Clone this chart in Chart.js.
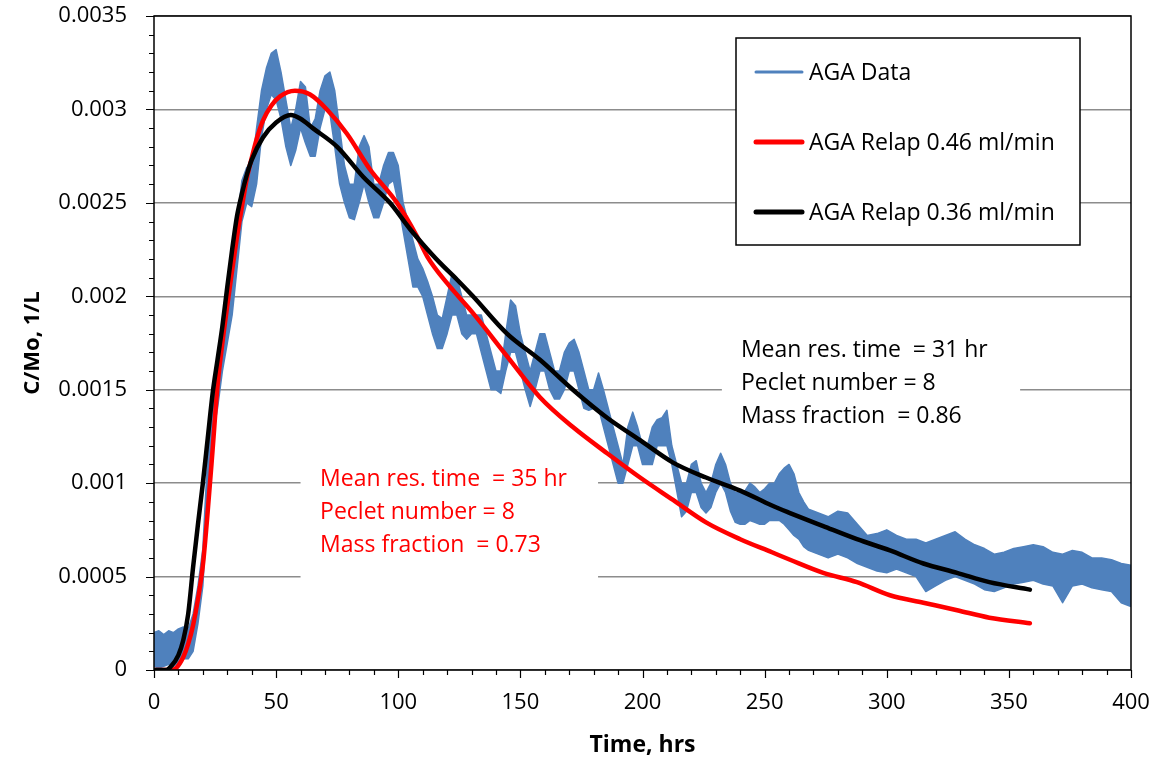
<!DOCTYPE html>
<html>
<head>
<meta charset="utf-8">
<title>AGA tracer breakthrough</title>
<script src="https://cdn.jsdelivr.net/npm/chart.js@4.4.1/dist/chart.umd.min.js"></script>
<style>
  html, body { margin: 0; padding: 0; background: #fff; }
  #tracer { display: block; }
</style>
</head>
<body>
<canvas id="tracer" width="1156" height="761"></canvas>
<script>
// Measured AGA concentration, stored as the low / high edge of the noisy trace
const dataHours = [0, 2, 4, 6, 8, 10, 12, 14, 16, 18, 20, 22, 24, 26, 28, 30, 32, 34, 36, 38,
  40, 42, 44, 46, 48, 50, 52, 54, 56, 58, 60, 62, 64, 66, 68, 70, 72, 74, 76, 78,
  80, 82, 84, 86, 88, 90, 92, 94, 96, 98, 100, 102, 104, 106, 108, 110, 112, 114, 116, 118,
  120, 122, 124, 126, 128, 130, 132, 134, 136, 138, 140, 142, 144, 146, 148, 150, 152, 154, 156, 158,
  160, 162, 164, 166, 168, 170, 172, 174, 176, 178, 180, 182, 184, 186, 188, 190, 192, 194, 196, 198,
  200, 202, 204, 206, 208, 210, 212, 214, 216, 218, 220, 222, 224, 226, 228, 230, 232, 234, 236, 238,
  240, 242, 244, 246, 248, 250, 252, 254, 256, 258, 260, 262, 264, 266, 268,
  272, 276, 280, 284, 288, 292, 296, 300, 304, 308, 312, 316, 320, 324, 328, 332, 336, 340,
  344, 348, 352, 356, 360, 364, 368, 372, 376, 380, 384, 388, 392, 396, 400];
const dataLow = [0.00002, 0.00001, 0.00002, 0.00003, 0.00002, 0.00004, 0.00006, 0.00006, 0.00010, 0.00025,
  0.00045, 0.00090, 0.00125, 0.00140, 0.00160, 0.00175, 0.00190, 0.00215, 0.00240, 0.00250,
  0.00248, 0.00260, 0.00285, 0.00300, 0.00308, 0.00305, 0.00295, 0.00280, 0.00270, 0.00278,
  0.00290, 0.00282, 0.00275, 0.00275, 0.00290, 0.00300, 0.00298, 0.00280, 0.00260, 0.00250,
  0.00242, 0.00241, 0.00250, 0.00260, 0.00250, 0.00242, 0.00242, 0.00250, 0.00260, 0.00262,
  0.00250, 0.00235, 0.00220, 0.00205, 0.00205, 0.00200, 0.00190, 0.00180, 0.00172, 0.00172,
  0.00180, 0.00190, 0.00190, 0.00180, 0.00177, 0.00180, 0.00180, 0.00170, 0.00160, 0.00150,
  0.00150, 0.00148, 0.00160, 0.00170, 0.00170, 0.00160, 0.00150, 0.00141, 0.00150, 0.00160,
  0.00160, 0.00150, 0.00145, 0.00145, 0.00150, 0.00160, 0.00160, 0.00150, 0.00140, 0.00139,
  0.00140, 0.00140, 0.00130, 0.00120, 0.00110, 0.00100, 0.00100, 0.00110, 0.00120, 0.00120,
  0.00110, 0.00110, 0.00110, 0.00120, 0.00120, 0.00120, 0.00110, 0.00096, 0.00082, 0.00085,
  0.00095, 0.00095, 0.00087, 0.00084, 0.00087, 0.00095, 0.00100, 0.00095, 0.00085, 0.00079,
  0.00078, 0.00078, 0.00080, 0.00079, 0.00078, 0.00078, 0.00080, 0.00080, 0.00080, 0.00078,
  0.00075, 0.00072, 0.00070, 0.00066, 0.00064,
  0.00062, 0.00060, 0.00062, 0.00060, 0.00057, 0.00055, 0.00053, 0.00052, 0.00054, 0.00052,
  0.00050, 0.00042, 0.00045, 0.00048, 0.00050, 0.00048, 0.00046, 0.00043,
  0.00042, 0.00044, 0.00046, 0.00047, 0.00048, 0.00046, 0.00045, 0.00036, 0.00045, 0.00046,
  0.00044, 0.00043, 0.00042, 0.00036, 0.00034];
const dataHigh = [0.00020, 0.00021, 0.00019, 0.00021, 0.00020, 0.00022, 0.00023, 0.00022, 0.00030, 0.00045,
  0.00065, 0.00115, 0.00150, 0.00165, 0.00180, 0.00198, 0.00210, 0.00240, 0.00262, 0.00269,
  0.00268, 0.00290, 0.00310, 0.00322, 0.00330, 0.00332, 0.00320, 0.00305, 0.00290, 0.00300,
  0.00315, 0.00312, 0.00290, 0.00295, 0.00310, 0.00318, 0.00320, 0.00310, 0.00290, 0.00270,
  0.00260, 0.00260, 0.00280, 0.00286, 0.00280, 0.00260, 0.00260, 0.00270, 0.00277, 0.00277,
  0.00270, 0.00250, 0.00240, 0.00230, 0.00220, 0.00215, 0.00208, 0.00200, 0.00190, 0.00188,
  0.00200, 0.00212, 0.00210, 0.00200, 0.00190, 0.00190, 0.00190, 0.00190, 0.00180, 0.00170,
  0.00160, 0.00160, 0.00180, 0.00198, 0.00195, 0.00180, 0.00170, 0.00160, 0.00170, 0.00180,
  0.00180, 0.00170, 0.00160, 0.00160, 0.00170, 0.00175, 0.00177, 0.00170, 0.00160, 0.00150,
  0.00150, 0.00159, 0.00150, 0.00140, 0.00130, 0.00120, 0.00110, 0.00130, 0.00138, 0.00130,
  0.00120, 0.00120, 0.00130, 0.00134, 0.00135, 0.00139, 0.00120, 0.00110, 0.00100, 0.00100,
  0.00110, 0.00112, 0.00100, 0.00095, 0.00100, 0.00110, 0.00116, 0.00110, 0.00100, 0.00095,
  0.00095, 0.00096, 0.00100, 0.00098, 0.00095, 0.00097, 0.00100, 0.00100, 0.00105, 0.00108,
  0.00110, 0.00105, 0.00095, 0.00090, 0.00086,
  0.00084, 0.00082, 0.00085, 0.00084, 0.00078, 0.00072, 0.00073, 0.00075, 0.00072, 0.00070,
  0.00070, 0.00068, 0.00070, 0.00072, 0.00074, 0.00070, 0.00067, 0.00065,
  0.00062, 0.00063, 0.00065, 0.00066, 0.00067, 0.00066, 0.00063, 0.00062, 0.00064, 0.00063,
  0.00060, 0.00060, 0.00059, 0.00057, 0.00056];

// RELAP fit, 0.46 ml/min
const fit046Hours = [0, 7, 9, 12, 14, 16, 18, 20, 22, 24, 26, 28, 30, 32, 34, 36, 38, 40, 42, 44.6,
  48, 51.6, 57.7, 63.9, 70.8, 79, 88.4, 99.5, 107.7, 112, 120, 130.6, 144.5, 158, 171.5, 185.5,
  199, 212.5, 226, 240, 253, 260.4, 274, 287.8, 301.3, 315, 328.8, 342, 358.6];
const fit046 = [0, 0, 0.00001, 0.00007, 0.00014, 0.00024, 0.00038, 0.00056, 0.00085, 0.00118,
  0.00152, 0.00175, 0.00195, 0.00214, 0.00232, 0.00248, 0.00263, 0.00274, 0.00284, 0.00294,
  0.00302, 0.00307, 0.00310, 0.00308, 0.00300, 0.00287, 0.00268, 0.00250, 0.00232, 0.00221,
  0.00207, 0.00191, 0.00168, 0.00146, 0.00130, 0.00116, 0.00103, 0.00091, 0.00079, 0.00070,
  0.00063, 0.00059, 0.00052, 0.00047, 0.00040, 0.00036, 0.00032, 0.00028, 0.00025];

// RELAP fit, 0.36 ml/min
const fit036Hours = [0, 5, 7, 10, 12, 14, 16, 18, 20, 22, 24, 26, 28, 30, 32, 34, 36, 38, 40, 44.6,
  50, 56, 60, 65, 75, 85.6, 96.6, 104.8, 110, 117, 124, 130.6, 144.5, 158, 171.5, 185.5,
  199, 212.5, 226, 240, 253, 260.4, 274, 287.8, 301.3, 315, 328.8, 342, 358.6];
const fit036 = [0, 0, 0.00002, 0.00008, 0.00016, 0.00030, 0.00055, 0.00078, 0.00100, 0.00124,
  0.00148, 0.00166, 0.00184, 0.00205, 0.00225, 0.00243, 0.00255, 0.00265, 0.00273, 0.00285,
  0.00293, 0.00297, 0.00295, 0.00290, 0.00280, 0.00264, 0.00250, 0.00236, 0.00228, 0.00218,
  0.00209, 0.00200, 0.00180, 0.00166, 0.00150, 0.00135, 0.00123, 0.00111, 0.00103, 0.00096,
  0.00088, 0.00084, 0.00077, 0.00070, 0.00064, 0.00057, 0.00052, 0.00047, 0.00043];

const xTickLabels = [0, 50, 100, 150, 200, 250, 300, 350, 400];
const yTickLabels = [0, 0.0005, 0.001, 0.0015, 0.002, 0.0025, 0.003, 0.0035];

const seriesNames = ['AGA Data', 'AGA Relap 0.46 ml/min', 'AGA Relap 0.36 ml/min'];

// fitted parameters, placed at [hours, C/Mo] of the first text line
const notes = [
  { color: '#ff0000', at: [68, 0.00102], box: [60, 181.8, 0.00111, 0.00040],
    lines: ['Mean res. time  = 35 hr', 'Peclet number = 8', 'Mass fraction  = 0.73'] },
  { color: '#000000', at: [240.3, 0.00171], box: [232.5, 354.6, 0.00183, 0.00127],
    lines: ['Mean res. time  = 31 hr', 'Peclet number = 8', 'Mass fraction  = 0.86'] }
];

const BLUE = '#4f81bd';
const FONT = "'Open Sans', sans-serif";
Chart.defaults.font.family = FONT;
Chart.defaults.color = '#000';

const toPoints = (xs, ys) => xs.map((x, i) => ({ x: x, y: ys[i] }));
const onStep = (v, step) => Math.abs(v / step - Math.round(v / step)) < 1e-6;
const inList = (v, list) => list.some(t => Math.abs(t - v) < 1e-9);

// white boxes behind the parameter text (they break the gridlines)
const noteBoxes = {
  id: 'noteBoxes',
  beforeDatasetsDraw(chart) {
    const { ctx, scales: { x, y } } = chart;
    ctx.save();
    ctx.fillStyle = '#fff';
    notes.forEach(n => {
      const l = x.getPixelForValue(n.box[0]), r = x.getPixelForValue(n.box[1]);
      const t = y.getPixelForValue(n.box[2]), b = y.getPixelForValue(n.box[3]);
      ctx.fillRect(l, t, r - l, b - t);
    });
    ctx.restore();
  },
  afterDatasetsDraw(chart) {
    const { ctx, scales: { x, y } } = chart;
    ctx.save();
    ctx.font = '23px ' + FONT;
    ctx.textBaseline = 'middle';
    ctx.textAlign = 'left';
    notes.forEach(n => {
      const px = x.getPixelForValue(n.at[0]);
      const py = y.getPixelForValue(n.at[1]);
      ctx.fillStyle = n.color;
      n.lines.forEach((s, i) => ctx.fillText(s, px, py + i * 33));
    });
    ctx.restore();
  }
};

// plot frame plus long / short tick marks
const frameTicks = {
  id: 'frameTicks',
  afterDraw(chart) {
    const { ctx, chartArea: a, scales: { x, y } } = chart;
    ctx.save();
    ctx.strokeStyle = '#000';
    ctx.lineWidth = 1.2;
    ctx.beginPath();
    x.ticks.forEach(t => {
      const px = Math.round(x.getPixelForValue(t.value)) + 0.5;
      ctx.moveTo(px, a.bottom);
      ctx.lineTo(px, a.bottom + (onStep(t.value, 50) ? 8 : 5));
    });
    y.ticks.forEach(t => {
      const py = Math.round(y.getPixelForValue(t.value)) + 0.5;
      ctx.moveTo(a.left, py);
      ctx.lineTo(a.left - (onStep(t.value, 0.0005) ? 8 : 5), py);
    });
    ctx.stroke();
    ctx.lineWidth = 1.5;
    ctx.strokeRect(a.left, a.top, a.right - a.left, a.bottom - a.top);
    ctx.restore();
  }
};

// boxed legend in the upper right of the plot
const legendBox = {
  id: 'legendBox',
  afterDraw(chart) {
    const { ctx, chartArea: a } = chart;
    const left = a.right - 395, top = a.top + 22, w = 344, h = 207;
    ctx.save();
    ctx.fillStyle = '#fff';
    ctx.fillRect(left, top, w, h);
    ctx.strokeStyle = '#000';
    ctx.lineWidth = 1.5;
    ctx.strokeRect(left, top, w, h);
    ctx.font = '23px ' + FONT;
    ctx.textBaseline = 'middle';
    ctx.lineCap = 'round';
    chart.data.datasets.filter(ds => ds.label).forEach((ds, i) => {
      const ly = top + 34 + i * 70;
      ctx.strokeStyle = ds.borderColor;
      ctx.lineWidth = ds.legendLine;
      ctx.beginPath();
      ctx.moveTo(left + 20, ly);
      ctx.lineTo(left + 66, ly);
      ctx.stroke();
      ctx.fillStyle = '#000';
      ctx.fillText(ds.label, left + 73, ly + 1);
    });
    ctx.restore();
  }
};

new Chart(document.getElementById('tracer'), {
  type: 'line',
  data: {
    datasets: [
      {
        label: seriesNames[0],
        data: toPoints(dataHours, dataHigh),
        borderColor: BLUE,
        backgroundColor: BLUE,
        borderWidth: 1.5,
        fill: '+1',
        order: 3,
        legendLine: 3
      },
      {
        label: '',
        data: toPoints(dataHours, dataLow),
        borderColor: BLUE,
        borderWidth: 1.5,
        fill: false,
        order: 3
      },
      {
        label: seriesNames[1],
        data: toPoints(fit046Hours, fit046),
        borderColor: '#ff0000',
        borderWidth: 4.5,
        cubicInterpolationMode: 'monotone',
        fill: false,
        order: 2,
        legendLine: 5
      },
      {
        label: seriesNames[2],
        data: toPoints(fit036Hours, fit036),
        borderColor: '#000000',
        borderWidth: 4.5,
        cubicInterpolationMode: 'monotone',
        fill: false,
        order: 1,
        legendLine: 5
      }
    ]
  },
  options: {
    responsive: false,
    animation: false,
    devicePixelRatio: 1,
    layout: { padding: { top: 16, right: 25, bottom: 0, left: 0 } },
    elements: { point: { radius: 0 }, line: { borderCapStyle: 'round', borderJoinStyle: 'round' } },
    plugins: {
      legend: { display: false },
      tooltip: { enabled: false }
    },
    scales: {
      x: {
        type: 'linear',
        min: 0,
        max: 400,
        afterFit: s => {
          s.height = 91;
          s.paddingLeft = 0;
          s.paddingRight = 0;
        },
        border: { display: false },
        grid: { drawOnChartArea: false, tickLength: 8, tickColor: 'transparent' },
        ticks: {
          stepSize: 10,
          autoSkip: false,
          maxRotation: 0,
          padding: 12,
          font: { size: 22 },
          callback: v => inList(v, xTickLabels) ? String(v) : ''
        },
        title: {
          display: true,
          text: 'Time, hrs',
          font: { size: 23, weight: 'bold' },
          padding: { top: 0, bottom: 2 }
        }
      },
      y: {
        min: 0,
        max: 0.0035,
        afterFit: s => {
          s.width = 154;
          s.paddingTop = 0;
          s.paddingBottom = 0;
        },
        border: { display: false },
        grid: {
          tickLength: 8,
          tickColor: 'transparent',
          lineWidth: 1.5,
          color: c => onStep(c.tick.value, 0.0005) ? '#8c8c8c' : 'transparent'
        },
        ticks: {
          stepSize: 0.0001,
          autoSkip: false,
          maxTicksLimit: 100,
          padding: 19,
          font: { size: 22 },
          callback: v => {
            const hit = yTickLabels.find(t => Math.abs(t - v) < 1e-9);
            return hit === undefined ? '' : String(hit);
          }
        },
        title: {
          display: true,
          text: 'C/Mo, 1/L',
          font: { size: 22, weight: 'bold' },
          padding: { top: 20, bottom: 0 }
        }
      }
    }
  },
  plugins: [noteBoxes, frameTicks, legendBox]
});
</script>
</body>
</html>
